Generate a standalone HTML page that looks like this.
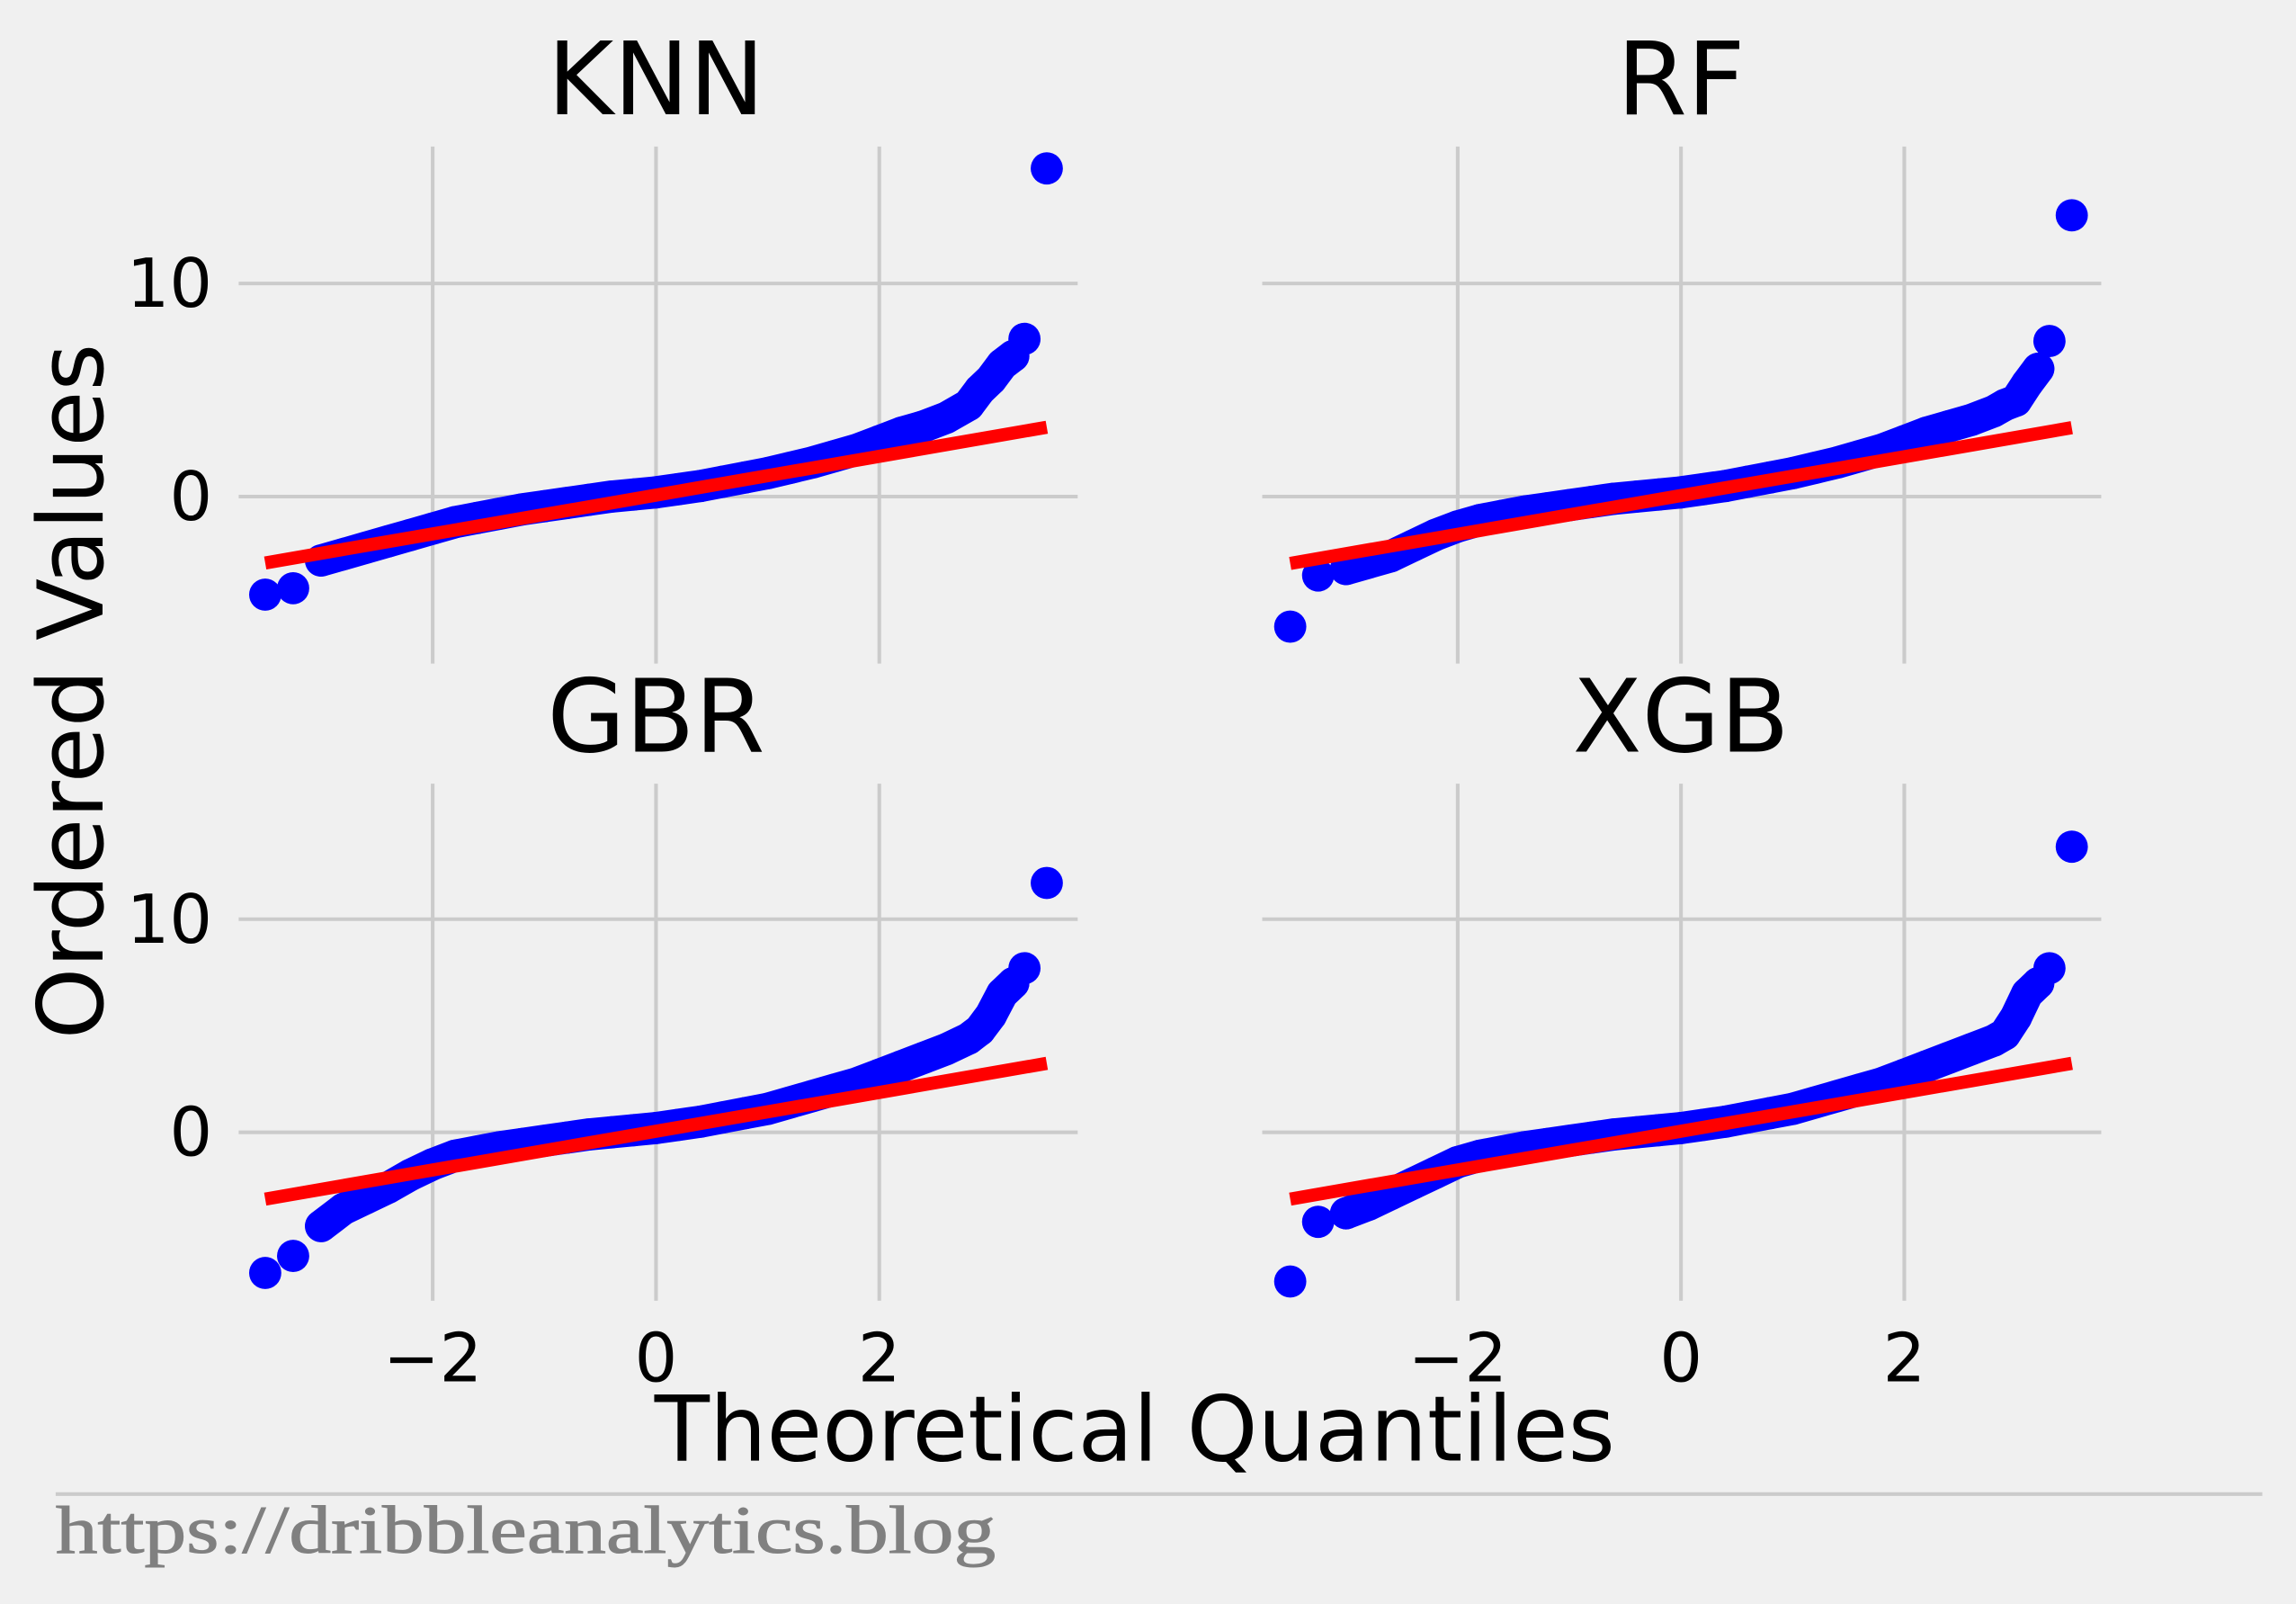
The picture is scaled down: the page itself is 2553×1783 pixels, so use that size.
<!DOCTYPE html>
<html><head><meta charset="utf-8"><style>
html,body{margin:0;padding:0;background:#f0f0f0;}
svg{display:block;font-family:"DejaVu Sans","Liberation Sans",sans-serif;}
</style></head><body>
<svg id="chart" width="2553" height="1783" viewBox="0 0 1568 1095" xmlns="http://www.w3.org/2000/svg">
<rect width="1568" height="1095" fill="#f0f0f0"/>
<g id="panels"></g>
<text x="0" y="0" transform="translate(70,472) rotate(-90)" font-size="62" text-anchor="middle" fill="#000" textLength="475" lengthAdjust="spacingAndGlyphs">Ordered Values</text>
<text x="775" y="997" font-size="62" text-anchor="middle" fill="#000" textLength="656" lengthAdjust="spacingAndGlyphs">Theoretical Quantiles</text>
<line x1="38" y1="1020" x2="1545" y2="1020" stroke="#cbcbcb" stroke-width="2.5"/>
<text x="38" y="1060" font-size="46" fill="#808080" font-family="'Liberation Serif',serif" textLength="642" lengthAdjust="spacingAndGlyphs" stroke="#808080" stroke-width="0.6">https://dribbleanalytics.blog</text>
</svg>
<script>
const panelNames = ["KNN","RF","GBR","XGB"];
const quantiles = [-3.5,-3.25,-3.0,-2.8,-2.6,-2.4,-2.2,-2.0,-1.8,-1.6,-1.4,-1.2,-1.0,-0.8,-0.6,-0.4,-0.2,0,0.2,0.4,0.6,0.8,1.0,1.2,1.4,1.6,1.8,2.0,2.2,2.4,2.6,2.8,2.9,3.0,3.1,3.2,3.3,3.5];
const knnValues = [-4.6,-4.3,-3.0,-2.7,-2.4,-2.1,-1.8,-1.5,-1.2,-1.0,-0.8,-0.6,-0.45,-0.3,-0.15,0,0.1,0.2,0.35,0.5,0.7,0.9,1.1,1.35,1.6,1.9,2.2,2.6,3.0,3.3,3.7,4.3,5.0,5.5,6.2,6.6,7.4,15.4];
const rfValues = [-6.1,-3.7,-3.4,-3.1,-2.8,-2.3,-1.8,-1.4,-1.1,-0.9,-0.7,-0.55,-0.4,-0.25,-0.1,0,0.1,0.2,0.35,0.5,0.7,0.9,1.1,1.35,1.6,1.9,2.2,2.6,3.0,3.3,3.6,4.0,4.3,4.5,5.3,6.0,7.3,13.2];
const gbrValues = [-6.6,-5.8,-4.4,-3.6,-3.1,-2.6,-2.0,-1.5,-1.1,-0.9,-0.7,-0.55,-0.4,-0.25,-0.1,0,0.1,0.2,0.35,0.5,0.7,0.9,1.1,1.4,1.7,2.0,2.3,2.7,3.1,3.5,3.9,4.4,4.8,5.5,6.5,7.0,7.7,11.7];
const xgbValues = [-7.0,-4.2,-3.8,-3.4,-2.9,-2.4,-1.9,-1.4,-1.1,-0.9,-0.7,-0.55,-0.4,-0.25,-0.1,0,0.1,0.2,0.35,0.5,0.7,0.9,1.1,1.4,1.7,2.0,2.3,2.7,3.1,3.5,3.9,4.3,4.6,5.4,6.5,7.0,7.7,13.4];
const fitSlopes = [0.91,0.91,0.91,0.91];
const fitIntercepts = [0.07,0.05,0.05,0.05];
const xTicks = [-2,0,2];
const yTicks = [0,10];
const allValues = [knnValues,rfValues,gbrValues,xgbValues];

const NS="http://www.w3.org/2000/svg";
const root=document.getElementById('panels');
function mk(tag,attrs,parent){const e=document.createElementNS(NS,tag);for(const k in attrs)e.setAttribute(k,attrs[k]);parent.appendChild(e);return e;}
const layout=[{x0:448,left:163,right:736,y0:339,top:100,bot:453},{x0:1148,left:862,right:1435,y0:339,top:100,bot:453},
{x0:448,left:163,right:736,y0:773,top:535,bot:888},{x0:1148,left:862,right:1435,y0:773,top:535,bot:888}];
const XS=76.25, YS=14.55;
layout.forEach((L,i)=>{
  const g=mk('g',{},root);
  
  
  const sx=v=>L.x0+v*XS, sy=v=>L.y0-v*YS;
  xTicks.forEach(t=>{
    const l=mk('line',{x1:sx(t),x2:sx(t),y1:L.top,y2:L.bot,stroke:'#cbcbcb','stroke-width':2.5},g);
    
    
    if(i>=2){const tx=mk('text',{x:sx(t),y:943,'font-size':46,'text-anchor':'middle',fill:'#000'},g);tx.textContent=t<0?'\u2212'+Math.abs(t):String(t);
      
      }
  });
  yTicks.forEach(t=>{
    const l=mk('line',{x1:L.left,x2:L.right,y1:sy(t),y2:sy(t),stroke:'#cbcbcb','stroke-width':2.5},g);
    
    
    if(i%2===0){const tx=mk('text',{x:145,y:sy(t)+16,'font-size':46,'text-anchor':'end',fill:'#000'},g);tx.textContent=String(t);
      
      }
  });
  const ti=mk('text',{x:L.x0,y:L.top-22,'font-size':69,'text-anchor':'middle',fill:'#000'},g);
  ti.textContent=panelNames[i];
  
  
  const vals=allValues[i];
  const pts=[];
  for(let j=2;j<quantiles.length-2;j++) pts.push(sx(quantiles[j])+','+sy(vals[j]));
  const band=mk('polyline',{points:pts.join(' '),fill:'none',stroke:'#0000ff','stroke-width':22,'stroke-linejoin':'round','stroke-linecap':'round'},g);
  
  
  quantiles.forEach((q,j)=>{
    const c=mk('circle',{cx:sx(q),cy:sy(vals[j]),r:11,fill:'#0000ff'},g);
    
    
  });
  const q0=quantiles[0], q1=quantiles[quantiles.length-1];
  const ln=mk('line',{x1:sx(q0),y1:sy(fitIntercepts[i]+fitSlopes[i]*q0),x2:sx(q1),y2:sy(fitIntercepts[i]+fitSlopes[i]*q1),stroke:'#ff0000','stroke-width':9},g);
  
  
});
</script>
</body></html>
